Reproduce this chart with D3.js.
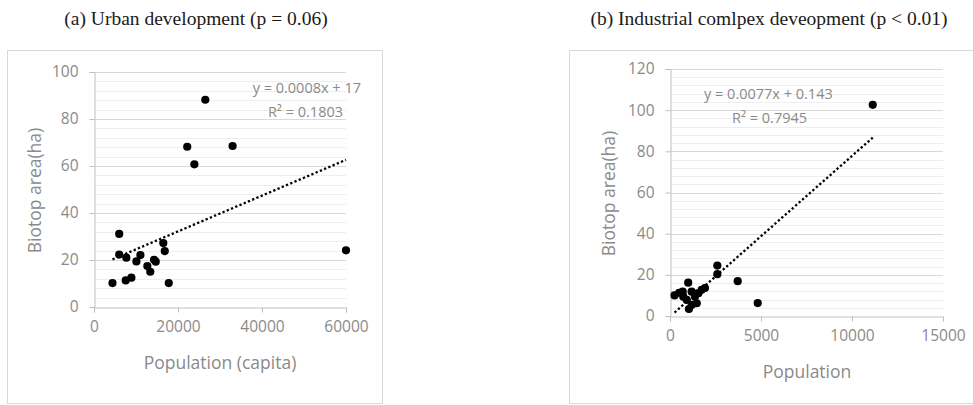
<!DOCTYPE html>
<html>
<head>
<meta charset="utf-8">
<script src="https://cdn.jsdelivr.net/npm/d3@7"></script>
<style>
  html, body { margin: 0; padding: 0; background: #fff; }
  svg { display: block; }
</style>
</head>
<body>
<svg id="chart" width="973" height="405"></svg>
<script>
// (a) Urban development: population (capita) vs biotop area (ha)
const urbanPopulation = [4400, 6000, 6000, 7700, 7550, 8900, 10100, 11050, 12700, 13400,
                         14300, 14700, 16500, 16850, 17800, 22200, 23900, 26500, 33000, 60000];
const urbanArea       = [10.2, 31.1, 22.3, 21.0, 11.3, 12.5, 19.4, 22.1, 17.4, 15.0,
                         20.1, 19.3, 27.2, 23.8, 10.2, 68.2, 60.7, 88.2, 68.5, 24.1];

// (b) Industrial complex development: population vs biotop area (ha)
const industryPopulation = [250, 500, 700, 730, 920, 1000, 1040, 1190, 1190, 1370,
                            1470, 1560, 1740, 1920, 2600, 2600, 3720, 4820, 11140];
const industryArea       = [10.0, 11.3, 11.8, 9.4, 7.8, 16.2, 3.4, 11.8, 5.4, 9.4,
                            6.2, 11.1, 12.7, 13.6, 20.3, 24.5, 16.9, 6.3, 102.6];

// Axis ticks
const urbanXTicks = [0, 20000, 40000, 60000];
const urbanYTicks = [0, 20, 40, 60, 80, 100];
const industryXTicks = [0, 5000, 10000, 15000];
const industryYTicks = [0, 20, 40, 60, 80, 100, 120];

// Titles and trend-line annotations
const panelTitles = ["(a) Urban development (p = 0.06)", "(b) Industrial comlpex deveopment (p < 0.01)"];
const xAxisTitles = ["Population (capita)", "Population"];
const yAxisTitle = "Biotop area(ha)";
const equationTexts = ["y = 0.0008x + 17", "y = 0.0077x + 0.143"];
const rSquaredTexts = ["R\u00B2 = 0.1803", "R\u00B2 = 0.7945"];

const svg = d3.select("#chart");
const SANS = "'Open Sans', 'Noto Sans', sans-serif";
const GREY_TEXT = "#8a8a8a";

// ordinary least-squares fit used for the dotted trend line
function linearFit(xs, ys) {
  const mx = d3.mean(xs), my = d3.mean(ys);
  let sxy = 0, sxx = 0;
  xs.forEach((x, i) => { sxy += (x - mx) * (ys[i] - my); sxx += (x - mx) * (x - mx); });
  const slope = sxy / sxx;
  return { slope, intercept: my - slope * mx };
}

function drawPanel(p) {
  const g = svg.append("g");

  // outer chart frame
  g.append("rect")
    .attr("x", p.frame[0] + 0.5).attr("y", p.frame[1] + 0.5)
    .attr("width", p.frame[2]).attr("height", p.frame[3])
    .attr("fill", "#fff").attr("stroke", "#d9d9d9").attr("stroke-width", 1);

  // panel title
  svg.append("text")
    .attr("x", p.titleX).attr("y", 25)
    .attr("text-anchor", "middle")
    .attr("font-family", "'Liberation Serif', 'Times New Roman', serif")
    .attr("font-size", 19.5).attr("fill", "#1a1a1a")
    .text(p.title);

  const x = d3.scaleLinear().domain([0, p.xMax]).range([p.left, p.right]);
  const y = d3.scaleLinear().domain([0, p.yMax]).range([p.bottom, p.top]);

  // minor gridlines every 4 units, major every 20
  const minor = d3.range(4, p.yMax + 0.001, 4).filter(v => v % 20 !== 0);
  g.append("g").selectAll("line").data(minor).join("line")
    .attr("x1", p.left).attr("x2", p.right)
    .attr("y1", d => Math.round(y(d)) + 0.5).attr("y2", d => Math.round(y(d)) + 0.5)
    .attr("stroke", "#eeeeee").attr("stroke-width", 1);
  g.append("g").selectAll("line").data(p.yTicks.filter(v => v > 0)).join("line")
    .attr("x1", p.left).attr("x2", p.right)
    .attr("y1", d => Math.round(y(d)) + 0.5).attr("y2", d => Math.round(y(d)) + 0.5)
    .attr("stroke", "#d9d9d9").attr("stroke-width", 1);

  // axes
  const yAxis = g.append("g")
    .attr("transform", `translate(${p.left + 0.5},0)`)
    .call(d3.axisLeft(y).tickValues(p.yTicks).tickSize(5).tickPadding(11).tickFormat(d3.format("d")));
  const xAxis = g.append("g")
    .attr("transform", `translate(0,${Math.round(p.bottom) + 0.5})`)
    .call(d3.axisBottom(x).tickValues(p.xTicks).tickSize(5).tickPadding(8).tickFormat(d3.format("d")));
  [xAxis, yAxis].forEach(ax => {
    ax.select(".domain").attr("stroke", "#bfbfbf");
    ax.selectAll(".tick line").attr("stroke", "#bfbfbf");
    ax.selectAll(".tick text")
      .attr("font-family", SANS).attr("font-size", 15.5).attr("fill", GREY_TEXT);
  });

  // axis titles
  g.append("text")
    .attr("transform", `translate(${p.yTitleX},${(p.top + p.bottom) / 2 + 1}) rotate(-90)`)
    .attr("text-anchor", "middle").attr("dominant-baseline", "central")
    .attr("font-family", SANS).attr("font-size", 17.5).attr("fill", GREY_TEXT)
    .text(yAxisTitle);
  g.append("text")
    .attr("x", p.xTitleX).attr("y", p.xTitleY)
    .attr("text-anchor", "middle").attr("dominant-baseline", "central")
    .attr("font-family", SANS).attr("font-size", 17.5).attr("fill", GREY_TEXT)
    .text(p.xTitle);

  // dotted linear trend line across the data range
  const fit = linearFit(p.xs, p.ys);
  const [x0, x1] = d3.extent(p.xs);
  g.append("line")
    .attr("x1", x(x0)).attr("y1", y(fit.slope * x0 + fit.intercept))
    .attr("x2", x(x1)).attr("y2", y(fit.slope * x1 + fit.intercept))
    .attr("stroke", "#000").attr("stroke-width", 2.3)
    .attr("stroke-dasharray", "2.3,2.3");

  // data points
  g.append("g").selectAll("circle").data(p.xs.map((v, i) => [v, p.ys[i]])).join("circle")
    .attr("cx", d => x(d[0])).attr("cy", d => y(d[1]))
    .attr("r", 4.1).attr("fill", "#000");

  // regression annotation
  g.append("text")
    .attr("x", p.eqPos[0]).attr("y", p.eqPos[1]).attr("text-anchor", p.eqAnchor)
    .attr("font-family", SANS).attr("font-size", 14.5).attr("fill", GREY_TEXT)
    .attr("xml:space", "preserve")
    .text(p.eq);
  g.append("text")
    .attr("x", p.r2Pos[0]).attr("y", p.r2Pos[1]).attr("text-anchor", p.eqAnchor)
    .attr("font-family", SANS).attr("font-size", 14.5).attr("fill", GREY_TEXT)
    .attr("xml:space", "preserve")
    .text(p.r2);
}

drawPanel({
  frame: [7, 50, 375, 353],
  title: panelTitles[0], titleX: 196,
  left: 94, right: 346, top: 72, bottom: 307,
  xMax: 60000, yMax: 100, xTicks: urbanXTicks, yTicks: urbanYTicks,
  xs: urbanPopulation, ys: urbanArea,
  xTitle: xAxisTitles[0], xTitleX: 220, xTitleY: 362, yTitleX: 34,
  eq: equationTexts[0], r2: rSquaredTexts[0], eqAnchor: "end",
  eqPos: [361, 93], r2Pos: [343, 117]
});

drawPanel({
  frame: [569, 50, 420, 353],
  title: panelTitles[1], titleX: 769,
  left: 670, right: 943, top: 69, bottom: 316,
  xMax: 15000, yMax: 120, xTicks: industryXTicks, yTicks: industryYTicks,
  xs: industryPopulation, ys: industryArea,
  xTitle: xAxisTitles[1], xTitleX: 807, xTitleY: 371, yTitleX: 608,
  eq: equationTexts[1], r2: rSquaredTexts[1], eqAnchor: "start",
  eqPos: [704, 99], r2Pos: [732, 123]
});
</script>
</body>
</html>
